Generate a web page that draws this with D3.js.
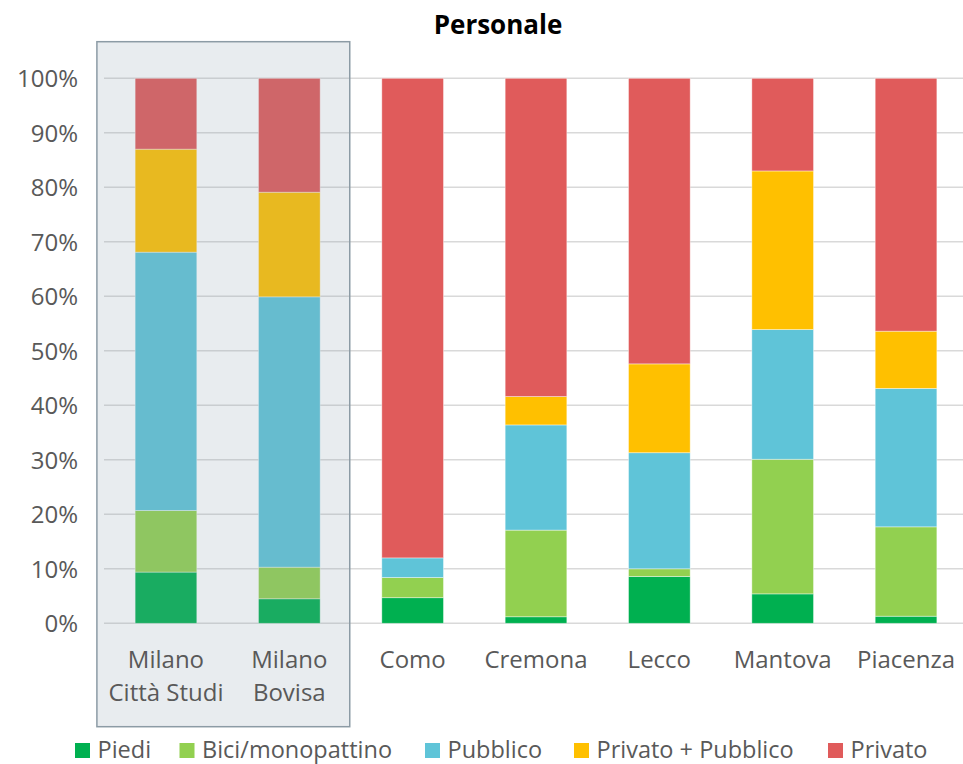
<!DOCTYPE html>
<html><head><meta charset="utf-8">
<script src="https://cdn.jsdelivr.net/npm/d3@7"></script>
<style>body{margin:0;background:#fff;} svg{display:block;font-family:"Open Sans", sans-serif;}</style>
</head><body>
<svg id="chart" width="963" height="764"></svg>
<script>
const categories = [["Milano","Città Studi"],["Milano","Bovisa"],["Como"],["Cremona"],["Lecco"],["Mantova"],["Piacenza"]];
const seriesNames = ["Piedi","Bici/monopattino","Pubblico","Privato + Pubblico","Privato"];
const piedi     = [9.4, 4.5, 4.7, 1.2, 8.6, 5.4, 1.3];
const bici      = [11.3, 5.8, 3.7, 15.9, 1.4, 24.7, 16.4];
const pubblico  = [47.4, 49.6, 3.6, 19.3, 21.3, 23.8, 25.4];
const privPubb  = [18.9, 19.2, 0.0, 5.2, 16.3, 29.1, 10.5];
const privato   = [13.0, 20.9, 88.0, 58.4, 52.4, 17.0, 46.4];
const colors = ["#00b050","#92d050","#5fc4d8","#ffc000","#e05b5b"];
const yTicks = [0,10,20,30,40,50,60,70,80,90,100];
const title = "Personale";

const svg = d3.select("#chart");
const keys = categories.map(c=>c.join(" "));
const data = keys.map((k,i)=>({key:k, Piedi:piedi[i], "Bici/monopattino":bici[i], Pubblico:pubblico[i], "Privato + Pubblico":privPubb[i], Privato:privato[i]}));
const x = d3.scaleBand().domain(keys).range([104.3, 967.7]).paddingInner(0.5).paddingOuter(0.25);
const y = d3.scaleLinear().domain([0,100]).range([623.3, 78.3]);
const textColor = "#595959";

// gridlines
svg.append("g").selectAll("line").data(yTicks).join("line")
  .attr("x1",104).attr("x2",963).attr("y1",d=>y(d)).attr("y2",d=>y(d))
  .attr("stroke","#d9d9d9").attr("stroke-width",1.5);

// y axis labels
const yAxis = d3.axisLeft(y).tickValues(yTicks).tickFormat(d=>d+"%").tickSize(0).tickPadding(0);
const ya = svg.append("g").attr("transform","translate(78,0)").call(yAxis);
ya.select(".domain").remove();
ya.selectAll("text").attr("font-size",24).attr("fill",textColor).attr("font-family","'Open Sans', sans-serif").attr("dy","0.35em");

// bars
const stack = d3.stack().keys(seriesNames)(data);
svg.append("g").selectAll("g").data(stack).join("g")
  .attr("fill",(d,i)=>colors[i])
  .selectAll("rect").data(d=>d).join("rect")
  .attr("x",d=>x(d.data.key)).attr("width",x.bandwidth())
  .attr("y",d=>y(d[1])).attr("height",d=>Math.max(0,y(d[0])-y(d[1])))
  .attr("stroke","rgba(255,255,255,0.5)").attr("stroke-width",0.8);

// highlight box over Milano
const bx0 = x(keys[0]) - x.step()*0.31, bx1 = x(keys[1]) + x.bandwidth() + x.step()*0.24;
svg.append("rect").attr("x",bx0).attr("y",41.7).attr("width",bx1-bx0).attr("height",726.7-41.7)
  .attr("fill","rgba(134,155,171,0.19)").attr("stroke","#8c9ba5").attr("stroke-width",1.5);

// x labels
const xl = svg.append("g");
categories.forEach((c,i)=>{
  const cx = x(keys[i])+x.bandwidth()/2;
  const t = xl.append("text").attr("x",cx).attr("y",668)
    .attr("text-anchor","middle").attr("font-size",24).attr("fill",textColor);
  c.forEach((line,j)=>t.append("tspan").attr("x",cx).attr("dy",j===0?0:33.4).text(line));
});

// title
svg.append("text").attr("x",498).attr("y",34).attr("text-anchor","middle")
  .attr("font-size",26).attr("font-weight","bold").attr("fill","#000").text(title);

// legend
const legX = [75,179.5,425,574,828];
const lg = svg.append("g");
seriesNames.forEach((s,i)=>{
  lg.append("rect").attr("x",legX[i]).attr("y",743).attr("width",15).attr("height",15).attr("fill",colors[i]);
  lg.append("text").attr("x",legX[i]+22.5).attr("y",757.5).attr("font-size",23.5).attr("fill",textColor).text(s);
});
</script>
</body></html>
